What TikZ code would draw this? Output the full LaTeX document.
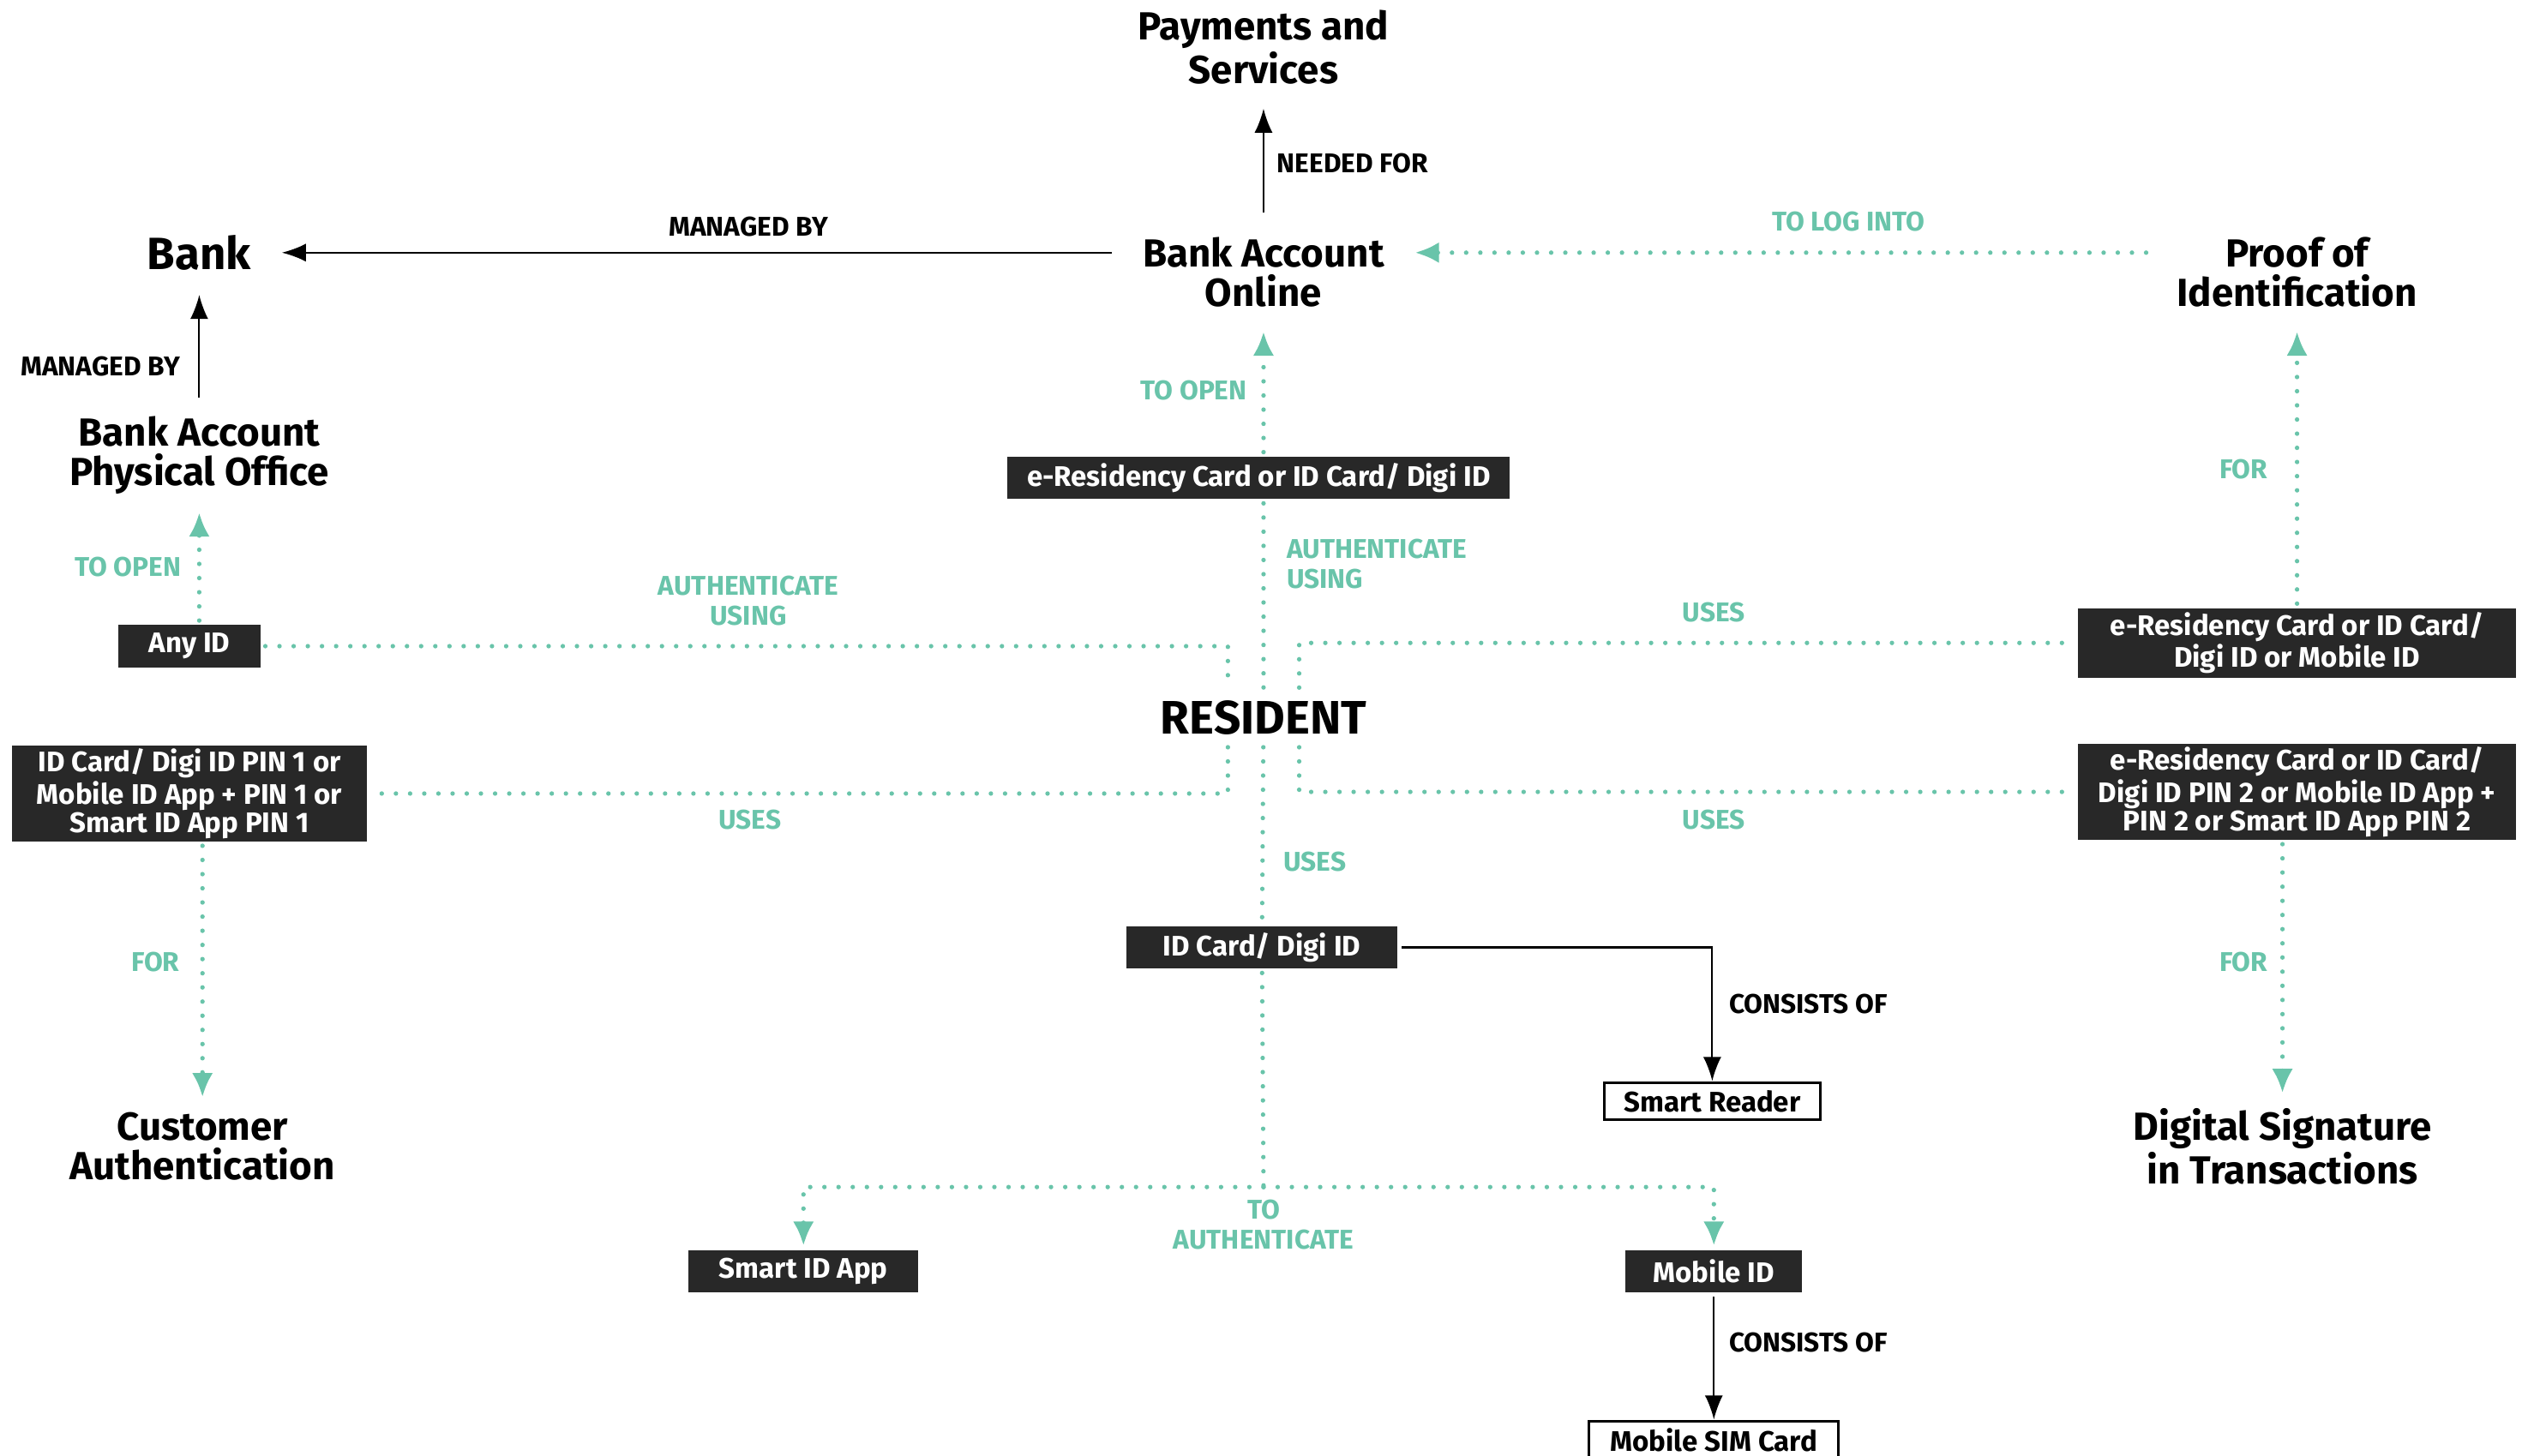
\documentclass[tikz,border=0pt]{standalone}
\usepackage{fontspec}
\setmainfont{Fira Sans}
\usepackage{tikz}
\usetikzlibrary{arrows.meta,calc}
\definecolor{idteal}{RGB}{105,196,170}
\definecolor{iddark}{RGB}{40,40,40}

\begin{document}
\begin{tikzpicture}[x=0.018897cm,y=-0.018897cm,
  title/.style={font=\fontsize{13}{13}\selectfont\bfseries,align=center,inner xsep=10pt,inner ysep=8pt},
  darkbox/.style={fill=iddark,text=white,font=\fontsize{9.4}{9.4}\selectfont\bfseries,align=center,inner sep=0pt,outer sep=1.5pt},
  whitebox/.style={draw=black,line width=0.9pt,fill=white,font=\fontsize{9.4}{9.4}\selectfont\bfseries,inner sep=0pt,outer sep=0.5pt},
  lbl/.style={font=\fontsize{9}{10}\selectfont\bfseries,align=center,inner sep=0pt},
  tlbl/.style={lbl,text=idteal},
  blk/.style={draw=black,line width=0.6pt,-{Latex[length=8pt,width=6pt]}},
  tdot/.style={draw=idteal,line width=1.5pt,line cap=round,dash pattern=on 0pt off 4.7pt},
  tarrow/.style={tdot,-{Latex[length=8pt,width=7pt]}}]
\useasboundingbox (0,0) rectangle (1568,899);

\node[title] (pay) at (780,29) {Payments and\\Services};
\node[title] (online) at (780,168) {Bank Account\\Online};
\node[title,font=\fontsize{15}{15}\selectfont\bfseries] (bank) at (123,156) {Bank};
\node[title,inner ysep=6pt] (office) at (123,281) {Bank Account\\Physical Office};
\node[title] (proof) at (1418,168) {Proof of\\Identification};
\node[title,font=\fontsize{15.6}{15.6}\selectfont\bfseries,inner ysep=0pt,minimum height=19.4pt] (resident) at (780,443) {RESIDENT};
\node[title,inner ysep=5pt] (custauth) at (125,708) {Customer\\Authentication};
\node[title,inner ysep=5pt] (digsig) at (1409,708) {Digital Signature\\in Transactions};

\node[darkbox,minimum width=47.3pt,minimum height=14pt] (anyid) at (117,399) {Any ID};
\node[darkbox,minimum width=166.7pt,minimum height=14pt] (eres) at (777,295) {e-Residency Card or ID Card/ Digi ID};
\node[darkbox,minimum width=145.2pt,minimum height=23.1pt] (eresmob) at (1418,397) {e-Residency Card or ID Card/\\Digi ID or Mobile ID};
\node[darkbox,minimum width=145.2pt,minimum height=31.7pt] (eresdig) at (1418,489) {e-Residency Card or ID Card/\\Digi ID PIN 2 or Mobile ID App +\\PIN 2 or Smart ID App PIN 2};
\node[darkbox,minimum width=117.7pt,minimum height=31.7pt] (pinone) at (117,490) {ID Card/ Digi ID PIN 1 or\\Mobile ID App + PIN 1 or\\Smart ID App PIN 1};
\node[darkbox,minimum width=89.8pt,minimum height=14pt] (idcard) at (779,585) {ID Card/ Digi ID};
\node[darkbox,minimum width=76.3pt,minimum height=14pt] (smartapp) at (496,785) {Smart ID App};
\node[darkbox,minimum width=58.6pt,minimum height=14pt] (mobileid) at (1058,785) {Mobile ID};
\node[whitebox,minimum width=71.5pt,minimum height=12.4pt] (reader) at (1057,680) {Smart Reader};
\node[whitebox,minimum width=82.8pt,minimum height=12.4pt] (sim) at (1058,889) {Mobile SIM Card};
\coordinate (split) at (780,733);

\draw[blk] (online) -- (pay);
\draw[blk] (online.west |- bank) -- (bank.east);
\draw[blk] (office) -- (bank);
\draw[tarrow] (proof.west |- bank) -- (online.east |- bank);
\draw[tarrow] (anyid.north -| office) -- (office);
\draw[tdot] (anyid.east) -| ($(resident.north)+(-22,0)$);
\draw[tarrow] (eres.north -| online) -- (online);
\draw[tdot] (eres.south -| resident) -- (resident.north);
\draw[tdot] ($(resident.north)+(22,0)$) |- (eresmob.west);
\draw[tarrow] (eresmob) -- (proof);
\draw[tdot] ($(resident.south)+(-22,0)$) |- (pinone.east);
\draw[tdot] ($(resident.south)+(22,0)$) |- (eresdig.west);
\draw[tarrow] (pinone.south -| custauth) -- (custauth);
\draw[tarrow] (eresdig.south -| digsig) -- (digsig);
\draw[tdot] (resident) -- (idcard);
\draw[blk] (idcard.east) -| (reader.north);
\draw[tdot] (idcard) -- (split);
\draw[tarrow] (split) -| (smartapp);
\draw[tarrow] (split) -| (mobileid);
\draw[blk] (mobileid) -- (sim);

\node[lbl,anchor=west] (neededfor) at (788,101) {NEEDED FOR};
\node[lbl] (managedtop) at (462,140) {MANAGED BY};
\node[lbl] (managedleft) at (62,226) {MANAGED BY};
\node[tlbl] (openoffice) at (79,350) {TO OPEN};
\node[tlbl] (authany) at (462,371) {AUTHENTICATE\\USING};
\node[tlbl] (loginto) at (1141,137) {TO LOG INTO};
\node[tlbl] (openonline) at (737,241) {TO OPEN};
\node[tlbl,anchor=west,align=left] (autheres) at (794,348) {AUTHENTICATE\\USING};
\node[tlbl] (usesmob) at (1058,378) {USES};
\node[tlbl] (forproof) at (1385,290) {FOR};
\node[tlbl] (usespin) at (463,506) {USES};
\node[tlbl] (usesdig) at (1058,506) {USES};
\node[tlbl] (forcust) at (96,594) {FOR};
\node[tlbl] (forsig) at (1385,594) {FOR};
\node[tlbl,anchor=west] (usesid) at (792,532) {USES};
\node[lbl,anchor=west] (consreader) at (1067,620) {CONSISTS OF};
\node[tlbl] (toauth) at (780,756) {TO\\AUTHENTICATE};
\node[lbl,anchor=west] (conssim) at (1067,829) {CONSISTS OF};
\end{tikzpicture}
\end{document}
